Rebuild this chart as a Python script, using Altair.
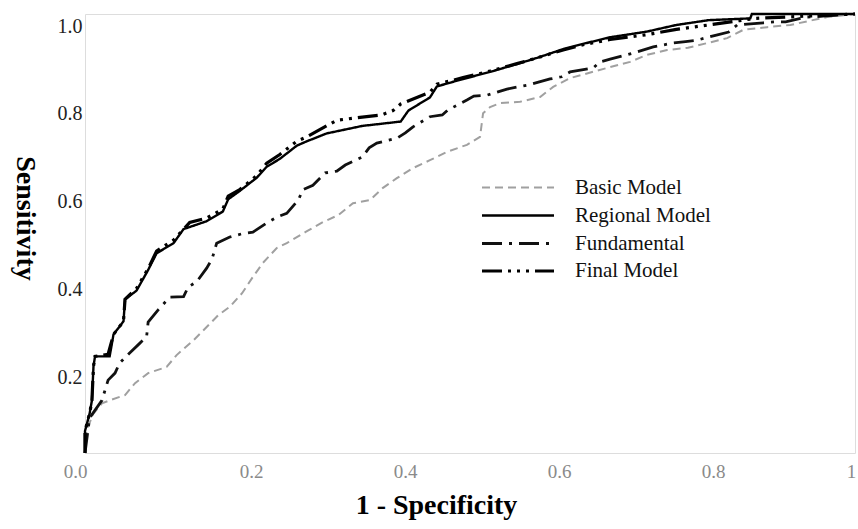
import altair as alt
import pandas as pd

models = ["Basic Model", "Regional Model", "Fundamental", "Final Model"]

basic_x = [0, 0.002, 0.011, 0.022, 0.032, 0.052, 0.065, 0.082, 0.106, 0.119,
           0.141, 0.158, 0.173, 0.188, 0.204, 0.218, 0.231, 0.249, 0.262, 0.286,
           0.309, 0.329, 0.348, 0.37, 0.387, 0.405, 0.426, 0.448, 0.47, 0.496,
           0.513, 0.517, 0.526, 0.539, 0.565, 0.591, 0.608, 0.63, 0.682, 0.708,
           0.73, 0.756, 0.783, 0.834, 0.855, 0.886, 0.916, 0.945, 0.964, 1.0]
basic_y = [0, 0.052, 0.09, 0.113, 0.12, 0.132, 0.159, 0.182, 0.196, 0.223,
           0.257, 0.287, 0.314, 0.333, 0.364, 0.401, 0.433, 0.467, 0.478, 0.503,
           0.526, 0.542, 0.569, 0.576, 0.604, 0.626, 0.649, 0.667, 0.686, 0.702,
           0.72, 0.774, 0.788, 0.797, 0.8, 0.811, 0.834, 0.854, 0.879, 0.891,
           0.907, 0.918, 0.923, 0.945, 0.964, 0.97, 0.975, 0.986, 0.993, 1.0]

regional_x = [0, 0, 0.006, 0.009, 0.011, 0.013, 0.032, 0.037, 0.05, 0.052,
              0.067, 0.082, 0.093, 0.115, 0.128, 0.158, 0.179, 0.186, 0.201, 0.223,
              0.236, 0.253, 0.275, 0.288, 0.314, 0.36, 0.41, 0.42, 0.448, 0.457,
              0.491, 0.526, 0.561, 0.587, 0.621, 0.647, 0.682, 0.73, 0.768, 0.81,
              0.864, 0.866, 1.0]
regional_y = [0, 0.05, 0.09, 0.12, 0.197, 0.22, 0.22, 0.27, 0.30, 0.35,
              0.37, 0.417, 0.455, 0.478, 0.51, 0.528, 0.55, 0.578, 0.597, 0.627,
              0.652, 0.67, 0.70, 0.71, 0.728, 0.745, 0.755, 0.78, 0.81, 0.835,
              0.852, 0.868, 0.886, 0.9, 0.92, 0.932, 0.947, 0.96, 0.975, 0.986,
              0.99, 1.0, 1.0]

fundamental_x = [0, 0.006, 0.022, 0.03, 0.039, 0.045, 0.058, 0.07, 0.08, 0.082,
                 0.095, 0.11, 0.128, 0.134, 0.145, 0.158, 0.165, 0.171, 0.188, 0.203,
                 0.218, 0.236, 0.25, 0.262, 0.277, 0.283, 0.296, 0.312, 0.327, 0.338,
                 0.36, 0.369, 0.379, 0.405, 0.416, 0.426, 0.448, 0.464, 0.471, 0.496,
                 0.505, 0.522, 0.548, 0.562, 0.575, 0.604, 0.619, 0.63, 0.66, 0.669,
                 0.682, 0.71, 0.738, 0.764, 0.78, 0.794, 0.82, 0.836, 0.847, 0.881,
                 0.896, 0.91, 0.937, 0.958, 1.0]
fundamental_y = [0, 0.08, 0.12, 0.166, 0.182, 0.205, 0.228, 0.248, 0.265, 0.298,
                 0.326, 0.355, 0.356, 0.378, 0.39, 0.421, 0.442, 0.478, 0.492, 0.499,
                 0.503, 0.524, 0.538, 0.546, 0.576, 0.60, 0.61, 0.638, 0.642, 0.656,
                 0.674, 0.695, 0.706, 0.717, 0.729, 0.743, 0.766, 0.77, 0.781, 0.804,
                 0.813, 0.815, 0.829, 0.834, 0.838, 0.852, 0.857, 0.868, 0.877, 0.891,
                 0.897, 0.91, 0.925, 0.934, 0.937, 0.94, 0.952, 0.959, 0.975, 0.98,
                 0.982, 0.982, 0.993, 0.995, 1.0]

final_x = [0, 0, 0.006, 0.009, 0.011, 0.013, 0.03, 0.037, 0.05, 0.052,
           0.067, 0.082, 0.093, 0.115, 0.136, 0.158, 0.179, 0.186, 0.201, 0.223,
           0.236, 0.253, 0.275, 0.288, 0.327, 0.36, 0.385, 0.40, 0.41, 0.448,
           0.457, 0.491, 0.526, 0.561, 0.587, 0.621, 0.647, 0.682, 0.73, 0.768,
           0.81, 0.85, 0.87, 1.0]
final_y = [0, 0.05, 0.09, 0.12, 0.197, 0.22, 0.225, 0.27, 0.30, 0.35,
           0.375, 0.42, 0.46, 0.485, 0.525, 0.535, 0.556, 0.585, 0.60, 0.632,
           0.66, 0.68, 0.71, 0.72, 0.758, 0.765, 0.77, 0.78, 0.795, 0.822,
           0.84, 0.855, 0.87, 0.887, 0.9, 0.918, 0.93, 0.942, 0.953, 0.965,
           0.975, 0.985, 0.99, 1.0]

x_ticks = [0, 0.2, 0.4, 0.6, 0.8, 1.0]
y_ticks = [0.2, 0.4, 0.6, 0.8, 1.0]

series = [
    ("Basic Model", basic_x, basic_y),
    ("Regional Model", regional_x, regional_y),
    ("Fundamental", fundamental_x, fundamental_y),
    ("Final Model", final_x, final_y),
]
rows = []
for name, xs, ys in series:
    for i, (xv, yv) in enumerate(zip(xs, ys)):
        rows.append({"model": name, "fpr": xv, "tpr": yv, "i": i})
df = pd.DataFrame(rows)

colors = ["#a0a0a0", "#000000", "#111111", "#000000"]
dashes = [[8, 5], [1, 0], [20, 7, 3, 7], [20, 6, 3, 6, 3, 6, 3, 6]]
widths = [2, 3.2, 2.2, 3.2]

FONT = "Liberation Serif"

legend = alt.Legend(
    orient="none", legendX=422, legendY=163, title=None,
    symbolType="M-4,0H4", symbolSize=324,
    labelFont=FONT, labelFontSize=21, labelColor="#111111",
    labelOffset=46, rowPadding=6, padding=0,
)

x_axis = alt.Axis(
    values=x_ticks, title="1 - Specificity",
    labelExpr="datum.value == 1 ? '1' : format(datum.value, '.1f')",
    labelFont=FONT, labelFontSize=19, labelColor="#8a8a8a",
    labelPadding=9, labelFlush=False, ticks=False, domain=False, grid=False,
    labelOffset={"condition": [{"test": "datum.value == 0", "value": -10},
                               {"test": "datum.value == 1", "value": -4}],
                 "value": 12},
    titleFont=FONT, titleFontSize=28, titleFontWeight="bold", titleColor="#000000",
    titleX=351, titleY=60, titleBaseline="alphabetic", titleAlign="center",
)

y_axis = alt.Axis(
    values=y_ticks, format=".1f", title="Sensitivity",
    labelFont=FONT, labelFontSize=20, labelColor="#222222",
    labelPadding=3, labelOffset=12, labelFlush=False, ticks=False, domain=False, grid=False,
    titleFont=FONT, titleFontSize=28, titleFontWeight="bold", titleColor="#000000",
    titleAngle=90, titleX=-61, titleY=204, titleAlign="center", titleBaseline="middle",
)

chart = alt.Chart(df).mark_line(strokeCap="butt", strokeJoin="miter").encode(
    x=alt.X("fpr:Q", scale=alt.Scale(domain=[0, 1], nice=False, zero=False), axis=x_axis),
    y=alt.Y("tpr:Q", scale=alt.Scale(domain=[0, 1], nice=False), axis=y_axis),
    color=alt.Color("model:N", scale=alt.Scale(domain=models, range=colors), legend=legend, sort=models),
    strokeDash=alt.StrokeDash("model:N", scale=alt.Scale(domain=models, range=dashes), legend=legend, sort=models),
    strokeWidth=alt.StrokeWidth("model:N", scale=alt.Scale(domain=models, range=widths), legend=legend, sort=models),
    order="i:Q",
).properties(
    width=770, height=439,
    padding={"left": 85, "top": 14, "right": 3, "bottom": 76},
    autosize=alt.AutoSizeParams(type="none"),
).configure_view(
    stroke="#9a9a9a", strokeWidth=1, strokeDash=[2, 1]
).configure(background="white")

chart.save("out.html", embed_options={"renderer": "svg", "actions": False})
